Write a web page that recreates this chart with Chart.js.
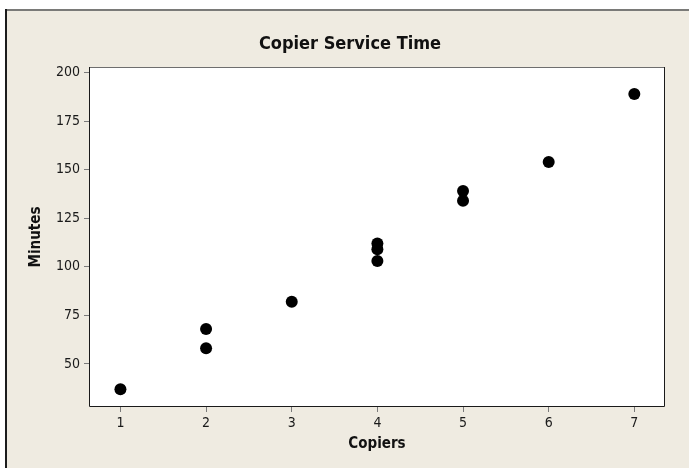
<!DOCTYPE html>
<html>
<head>
<meta charset="utf-8">
<script src="https://cdn.jsdelivr.net/npm/chart.js@4/dist/chart.umd.min.js"></script>
<style>
  html, body { margin: 0; padding: 0; background: #ffffff; }
  canvas { display: block; }
</style>
</head>
<body>
<canvas id="chart" width="689" height="468"></canvas>
<script>
// Number of copiers serviced and the service time in minutes
const copiers = [1, 2, 2, 3, 4, 4, 4, 5, 5, 6, 7];
const minutes = [37, 58, 68, 82, 103, 109, 112, 134, 139, 154, 189];

const xTicks = [1, 2, 3, 4, 5, 6, 7];
const yTicks = [50, 75, 100, 125, 150, 175, 200];

const chartTitle = 'Copier Service Time';
const xTitle = 'Copiers';
const yTitle = 'Minutes';

const PANEL = '#efebe1';
const tickFont = { family: 'DejaVu Sans Condensed, DejaVu Sans', size: 14 };
const boldFont = { family: 'DejaVu Sans Condensed, DejaVu Sans', size: 15, weight: 'bold' };

// Beige panel, white data region, borders and the heading
const framePlugin = {
  id: 'frame',
  beforeDraw(chart) {
    const { ctx, width, height, chartArea: a } = chart;
    ctx.save();
    ctx.fillStyle = '#ffffff';
    ctx.fillRect(0, 0, width, height);
    ctx.fillStyle = PANEL;
    ctx.fillRect(6, 10, width - 6, height - 10);
    ctx.fillStyle = '#7a7a78';
    ctx.fillRect(5, 9, width - 5, 2);
    ctx.fillStyle = '#1c1c1c';
    ctx.fillRect(5, 9, 2, height - 9);
    ctx.fillStyle = '#ffffff';
    ctx.fillRect(a.left, a.top, a.right - a.left, a.bottom - a.top);

    ctx.fillStyle = '#111111';
    ctx.font = 'bold 18px "DejaVu Sans Condensed", "DejaVu Sans"';
    ctx.textAlign = 'center';
    ctx.textBaseline = 'alphabetic';
    ctx.fillText(chartTitle, 350, 49);
    ctx.restore();
  },
  beforeDatasetsDraw(chart) {
    const { ctx, chartArea: a } = chart;
    ctx.save();
    ctx.lineWidth = 1;
    ctx.strokeStyle = '#6e6e6e';
    ctx.beginPath();
    ctx.moveTo(a.left, a.top + 0.5);
    ctx.lineTo(a.right, a.top + 0.5);
    ctx.stroke();
    ctx.strokeStyle = '#1a1a1a';
    ctx.beginPath();
    ctx.moveTo(a.left + 0.5, a.top);
    ctx.lineTo(a.left + 0.5, a.bottom - 0.5);
    ctx.lineTo(a.right - 0.5, a.bottom - 0.5);
    ctx.lineTo(a.right - 0.5, a.top);
    ctx.stroke();
    ctx.restore();
  }
};

const points = copiers.map((c, i) => ({ x: c, y: minutes[i] }));

new Chart(document.getElementById('chart'), {
  type: 'scatter',
  data: {
    datasets: [{
      data: points,
      backgroundColor: '#000000',
      borderColor: '#000000',
      borderWidth: 0,
      pointRadius: 6,
      pointHoverRadius: 6
    }]
  },
  options: {
    responsive: false,
    animation: false,
    devicePixelRatio: 1,
    layout: { padding: { left: 10, right: 24, top: 67, bottom: 0 } },
    plugins: {
      legend: { display: false },
      tooltip: { enabled: false },
      title: { display: false }
    },
    scales: {
      x: {
        type: 'linear',
        min: 0.633,
        max: 7.358,
        afterBuildTicks: s => { s.ticks = xTicks.map(v => ({ value: v })); },
        afterFit: s => { s.height = 61; },
        grid: { display: true, drawOnChartArea: false, drawTicks: true, tickLength: 5, color: '#7a7a7a' },
        border: { display: false },
        ticks: { font: tickFont, color: '#1a1a1a', padding: 3, maxRotation: 0 },
        title: { display: true, text: xTitle, font: boldFont, color: '#111111', padding: { top: 0, bottom: 15 } }
      },
      y: {
        type: 'linear',
        min: 27.8,
        max: 202.9,
        afterBuildTicks: s => { s.ticks = yTicks.map(v => ({ value: v })); },
        afterFit: s => { s.width = 79; },
        grid: { display: true, drawOnChartArea: false, drawTicks: true, tickLength: 5, color: '#7a7a7a' },
        border: { display: false },
        ticks: { font: tickFont, color: '#1a1a1a', padding: 4 },
        title: { display: true, text: yTitle, font: boldFont, color: '#111111', padding: { top: 17, bottom: 0 } }
      }
    }
  },
  plugins: [framePlugin]
});
</script>
</body>
</html>
